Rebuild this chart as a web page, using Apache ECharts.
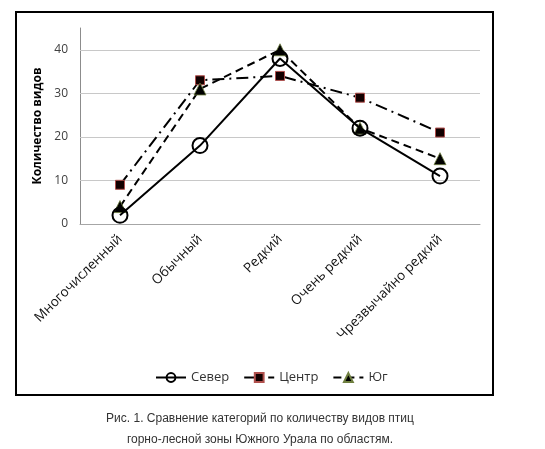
<!DOCTYPE html>
<html>
<head>
<meta charset="utf-8">
<script src="https://cdn.jsdelivr.net/npm/echarts@6/dist/echarts.min.js"></script>
<style>
html, body { margin: 0; padding: 0; background: #fff; }
#chart { width: 545px; height: 449px; }
</style>
</head>
<body>
<div id="chart"></div>
<script>
var categories = ['Многочисленный', 'Обычный', 'Редкий', 'Очень редкий', 'Чрезвычайно редкий'];
var sever = [2, 18, 38, 22, 11];
var centr = [9, 33, 34, 29, 21];
var yug = [4, 31, 40, 22, 15];
var gridTicks = [10, 20, 30, 40];

var chart = echarts.init(document.getElementById('chart'));

var option = {
	animation: false,
	backgroundColor: '#fff',
	textStyle: { fontFamily: 'Open Sans' },
	title: {
		text: 'Рис. 1. Сравнение категорий по количеству видов птиц\nгорно-лесной зоны Южного Урала по областям.',
		left: 255,
		top: 403,
		textAlign: 'center',
		textStyle: {
			fontFamily: 'Liberation Sans',
			fontSize: 12,
			fontWeight: 'normal',
			color: '#333',
			lineHeight: 21
		}
	},
	graphic: [{
		type: 'rect',
		shape: { x: 16, y: 12, width: 477, height: 383 },
		style: { fill: 'none', stroke: '#000', lineWidth: 2 },
		silent: true
	}],
	legend: {
		top: 366,
		left: 150,
		itemWidth: 30,
		itemHeight: 11,
		itemGap: 14,
		textStyle: { fontSize: 13, color: '#333' },
		data: ['Север', 'Центр', 'Юг']
	},
	grid: { left: 80, right: 65, top: 28, bottom: 225 },
	xAxis: {
		type: 'category',
		data: categories,
		boundaryGap: true,
		axisLine: { lineStyle: { color: '#a6a6a6', width: 1 } },
		axisTick: { show: false },
		axisLabel: { rotate: 45, fontSize: 13.5, color: '#111', margin: 13, interval: 0 }
	},
	yAxis: {
		type: 'value',
		min: 0,
		max: 45,
		interval: 10,
		name: 'Количество видов',
		nameLocation: 'middle',
		nameGap: 32,
		nameTextStyle: { fontSize: 12, fontWeight: 'bold', color: '#000' },
		axisLine: { show: true, lineStyle: { color: '#8c8c8c' } },
		axisTick: { show: false },
		splitLine: { show: false },
		axisLabel: {
			fontSize: 12,
			color: '#404040',
			margin: 12,
			formatter: function(v) { return v % 10 === 0 ? v : ''; }
		}
	},
	series: [
		{
			name: 'Север',
			type: 'line',
			data: sever,
			symbol: 'circle',
			symbolSize: 15,
			lineStyle: { color: '#000', width: 2 },
			itemStyle: { color: 'rgba(255,255,255,0)', borderColor: '#000', borderWidth: 2 },
			z: 3,
			markLine: {
				silent: true,
				symbol: 'none',
				label: { show: false },
				lineStyle: { color: '#c8c8c8', width: 1, type: 'solid' },
				data: gridTicks.map(function(t) { return { yAxis: t }; }),
				z: 1
			}
		},
		{
			name: 'Центр',
			type: 'line',
			data: centr,
			symbol: 'rect',
			symbolSize: 9,
			lineStyle: { color: '#000', width: 2, type: [12, 5, 2, 5] },
			itemStyle: { color: '#120000', borderColor: '#b0504d', borderWidth: 1 },
			z: 2
		},
		{
			name: 'Юг',
			type: 'line',
			data: yug,
			symbol: 'triangle',
			symbolSize: 12,
			lineStyle: { color: '#000', width: 2, type: [8, 5] },
			itemStyle: { color: '#000', borderColor: '#6f7f40', borderWidth: 0.8 },
			z: 2
		}
	]
};

chart.setOption(option);
</script>
</body>
</html>
